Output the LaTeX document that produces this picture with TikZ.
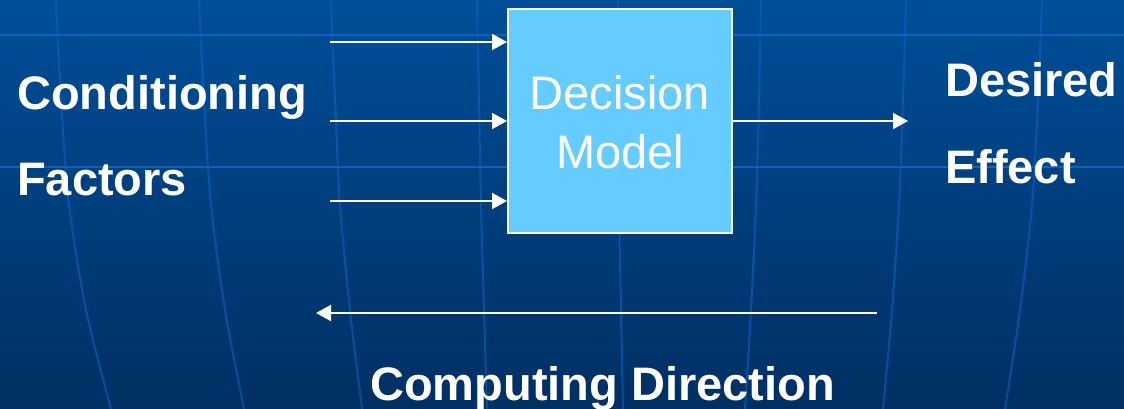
\documentclass[tikz,border=0pt]{standalone}
\usepackage{fontspec}
\setmainfont{Liberation Sans}
\usetikzlibrary{arrows.meta}
\definecolor{bgtop}{HTML}{004E98}
\definecolor{bgbot}{HTML}{002F63}
\definecolor{gridc}{HTML}{0A62C2}
\definecolor{boxfill}{HTML}{66CCFF}
\newcommand\bigfs{\fontsize{47}{58}\selectfont}
\tikzset{
  gridline/.style={draw=gridc, line width=2.8pt},
  vline/.style={draw=gridc, line width=2pt, opacity=0.6},
  arr/.style={draw=white, line width=2pt, -{Triangle[length=15pt,width=16pt]}},
  lbl/.style={text=white, font=\bigfs\bfseries, anchor=base west, inner sep=0pt},
  modelbox/.style={draw=white, line width=2pt, fill=boxfill, minimum width=224pt, minimum height=224pt, inner sep=0pt},
  boxtxt/.style={text=white, font=\bigfs, anchor=base, inner sep=0pt}
}
\begin{document}
\begin{tikzpicture}[x=1pt,y=-1pt]
\useasboundingbox (0,0) rectangle (1124,409);
\shade[top color=bgtop, bottom color=bgbot] (0,0) rectangle (1124,409);
% globe grid
\draw[gridline] (0,35) -- (1124,35);
\draw[gridline] (0,167) -- (1124,167);
\draw[vline] plot[smooth] coordinates {(56,0) (61,100) (69,205) (86,310) (111,409)};
\draw[vline] plot[smooth] coordinates {(199,0) (204,100) (211,205) (225,310) (244,409)};
\draw[vline] plot[smooth] coordinates {(331,0) (335,100) (340,205) (350,310) (362,409)};
\draw[vline] plot[smooth] coordinates {(477,0) (479,100) (481,205) (484,310) (487,409)};
\draw[vline] plot[smooth] coordinates {(618,0) (618,100) (619,205) (621,310) (623,409)};
\draw[vline] plot[smooth] coordinates {(761,0) (759,100) (756,205) (751,310) (745,409)};
\draw[vline] plot[smooth] coordinates {(906,0) (903,100) (899,205) (892,310) (883,409)};
\draw[vline] plot[smooth] coordinates {(1042,0) (1038,100) (1032,205) (1020,310) (1005,409)};
% box
\node[modelbox] (box) at (620,121) {};
\node[boxtxt] (dec) at (620,110) {Decision};
\node[boxtxt] (mod) at (620,168) {Model};
% labels
\node[lbl] (cond) at (17,110) {Conditioning};
\node[lbl] (fact) at (17,195) {Factors};
\node[lbl] (des) at (945,97) {Desired};
\node[lbl] (eff) at (945,183) {Effect};
\node[lbl] (comp) at (370,400) {Computing Direction};
% arrows
\coordinate (in1) at (330,42);
\coordinate (in2) at (330,121);
\coordinate (in3) at (330,201);
\coordinate (out) at (908,121);
\coordinate (cdR) at (877,313);
\coordinate (cdL) at (316,313);
\draw[arr] (in1) -- (in1 -| box.west);
\draw[arr] (in2) -- (in2 -| box.west);
\draw[arr] (in3) -- (in3 -| box.west);
\draw[arr] (box.east) -- (out);
\draw[arr] (cdR) -- (cdL);
\end{tikzpicture}
\end{document}
